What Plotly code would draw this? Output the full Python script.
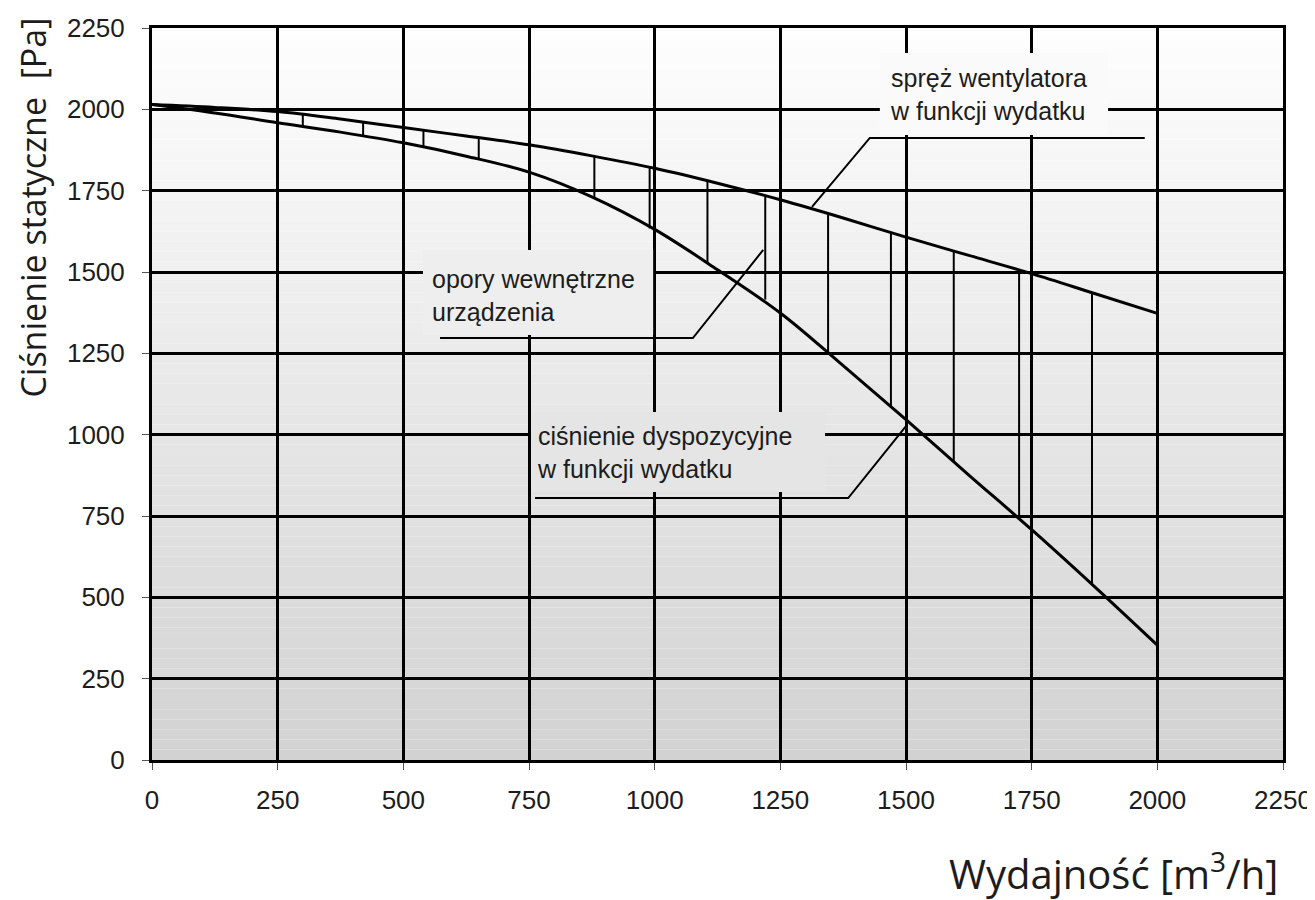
import plotly.graph_objects as go

# ---------------- data ----------------
flow = [0, 125, 250, 375, 500, 625, 750, 875, 1000, 1125, 1250, 1375, 1500, 1625, 1750, 1875, 2000]
fan_pressure = [2015, 2006, 1993, 1970, 1944, 1918, 1891, 1857, 1819, 1773, 1722,
                1666, 1607, 1551, 1495, 1434, 1373]                              # spręż wentylatora
available_pressure = [2015, 1989, 1959, 1930, 1897, 1856, 1807, 1731, 1631, 1507, 1374,
                      1212, 1046, 876, 708, 533, 353]                            # ciśnienie dyspozycyjne

hatch_flow = [300, 420, 540, 650, 752, 880, 990, 1105, 1220, 1345, 1470, 1595, 1725, 1870]
hatch_top = [1983, 1963, 1937, 1912, 1891, 1856, 1822, 1778, 1733, 1677, 1621, 1562, 1503, 1432]
hatch_bottom = [1949, 1920, 1885, 1848, 1805, 1728, 1634, 1525, 1415, 1249, 1083, 918, 744, 541]

tick_values = [0, 250, 500, 750, 1000, 1250, 1500, 1750, 2000, 2250]
tick_labels = [str(v) for v in tick_values]

label_fan = "spręż wentylatora<br>w funkcji wydatku"
label_losses = "opory wewnętrzne<br>urządzenia"
label_available = "ciśnienie dyspozycyjne<br>w funkcji wydatku"
y_title = "Ciśnienie statyczne \u00a0[Pa]"
x_title = "Wydajność [m<sup>3</sup>/h]"

# leader lines (label -> curve), in data units
leader_fan_x, leader_fan_y = [1975, 1428, 1313], [1912, 1912, 1700]
leader_loss_x, leader_loss_y = [573, 1076, 1216], [1297, 1297, 1568]
leader_avail_x, leader_avail_y = [762, 1385, 1502], [805, 805, 1030]

AX_MAX = 2250
TOP_GREY, BOTTOM_GREY = 254, 210


def grey_at(v):
    t = v / AX_MAX
    c = int(round(BOTTOM_GREY + (TOP_GREY - BOTTOM_GREY) * t))
    return f"rgb({c},{c},{c})"


fig = go.Figure()

# hatch lines between curves
hx, hy = [], []
for x, t, b in zip(hatch_flow, hatch_top, hatch_bottom):
    hx += [x, x, None]
    hy += [b, t, None]
fig.add_trace(go.Scatter(x=hx, y=hy, mode="lines", line=dict(color="black", width=2),
                         hoverinfo="skip", showlegend=False))

fig.add_trace(go.Scatter(x=flow, y=fan_pressure, mode="lines",
                         line=dict(color="black", width=3, shape="spline", smoothing=1.0),
                         name="spręż wentylatora", showlegend=False))
fig.add_trace(go.Scatter(x=flow, y=available_pressure, mode="lines",
                         line=dict(color="black", width=3, shape="spline", smoothing=1.0),
                         name="ciśnienie dyspozycyjne", showlegend=False))

for lx, ly in [(leader_fan_x, leader_fan_y), (leader_loss_x, leader_loss_y),
               (leader_avail_x, leader_avail_y)]:
    fig.add_trace(go.Scatter(x=lx, y=ly, mode="lines", line=dict(color="black", width=2),
                             hoverinfo="skip", showlegend=False))

shapes = []
# background vertical gradient
N = 72
for i in range(N):
    y0 = AX_MAX * i / N
    y1 = AX_MAX * (i + 1) / N
    shapes.append(dict(type="rect", xref="x", yref="y", x0=0, x1=AX_MAX, y0=y0, y1=y1,
                       fillcolor=grey_at((y0 + y1) / 2), line=dict(width=0), layer="below"))

# label boxes hiding the grid
boxes = [(1448, 1902, 1921, 2173), (539, 997, 1306, 1568), (754, 1339, 824, 1070)]
for x0, x1, y0, y1 in boxes:
    shapes.append(dict(type="rect", xref="x", yref="y", x0=x0, x1=x1, y0=y0, y1=y1,
                       fillcolor=grey_at((y0 + y1) / 2), line=dict(width=0), layer="between"))

label_font = dict(family="Liberation Sans, Arial, sans-serif", size=25, color="#1c1c1c")
annotations = [
    dict(x=1464, y=2047, xref="x", yref="y", text=label_fan, showarrow=False,
         xanchor="left", yanchor="middle", align="left", font=label_font),
    dict(x=553, y=1429, xref="x", yref="y", text=label_losses, showarrow=False,
         xanchor="left", yanchor="middle", align="left", font=label_font),
    dict(x=762, y=944, xref="x", yref="y", text=label_available, showarrow=False,
         xanchor="left", yanchor="middle", align="left", font=label_font),
    dict(x=-0.105, y=0.755, xref="paper", yref="paper", text=y_title, showarrow=False,
         textangle=-90, xanchor="center", yanchor="middle",
         font=dict(family="Open Sans, sans-serif", size=34, color="#1c1c1c")),
    dict(x=0.9975, y=-0.153, xref="paper", yref="paper", text=x_title, showarrow=False,
         xanchor="right", yanchor="middle",
         font=dict(family="Open Sans, sans-serif", size=40, color="#1c1c1c")),
]

tick_font = dict(family="Liberation Sans, Arial, sans-serif", size=26, color="#1c1c1c")
axis_common = dict(range=[0, AX_MAX], tickvals=tick_values, ticktext=tick_labels,
                   showgrid=True, gridcolor="black", gridwidth=2.5,
                   showline=True, linecolor="black", linewidth=3, mirror=True,
                   ticks="outside", ticklen=7, tickwidth=1.2, tickcolor="#555",
                   zeroline=False, tickfont=tick_font, fixedrange=True)

# the page body adds an 8 px offset, so the figure is 8 px smaller and shifted
fig.update_layout(
    width=1307, height=892,
    margin=dict(l=144, r=32, t=20, b=140, autoexpand=False),
    paper_bgcolor="white", plot_bgcolor="white",
    xaxis=dict(**axis_common, ticklabelstandoff=8),
    yaxis=dict(**axis_common, ticklabelstandoff=12),
    shapes=shapes, annotations=annotations, showlegend=False,
)

fig.write_html("out.html")
